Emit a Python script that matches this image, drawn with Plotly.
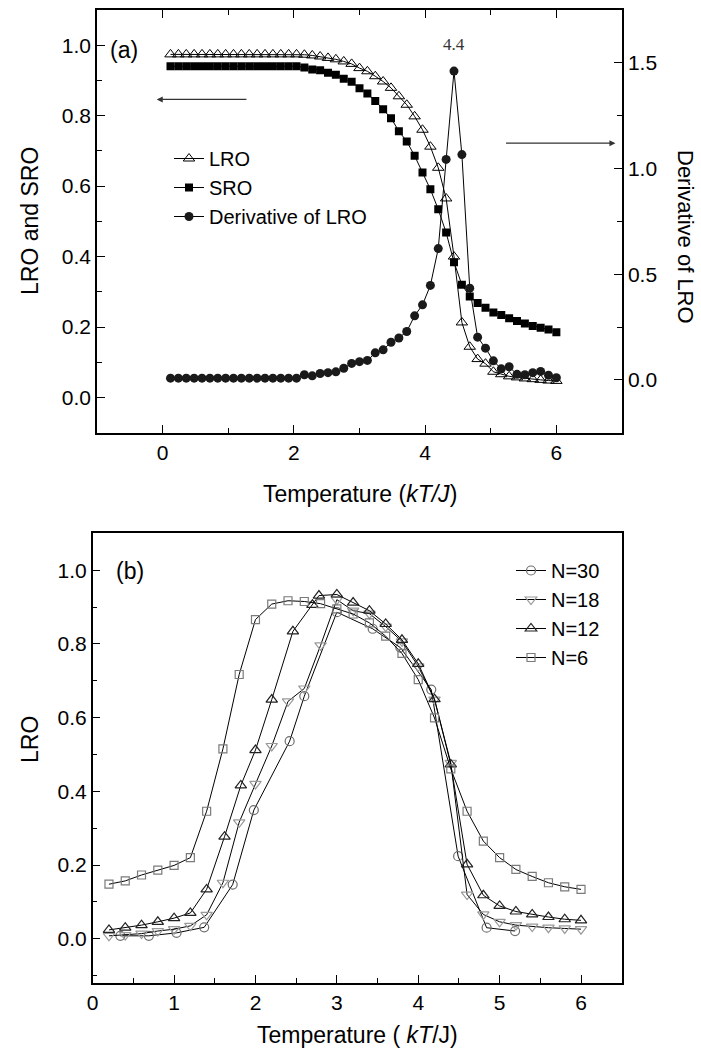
import plotly.graph_objects as go

# ---------------- Panel (a) data ----------------
T_a = [0.12, 0.24, 0.36, 0.48, 0.60, 0.72, 0.84, 0.96, 1.08, 1.20,
       1.32, 1.44, 1.56, 1.68, 1.80, 1.92, 2.04, 2.16, 2.28, 2.40,
       2.52, 2.64, 2.76, 2.88, 3.00, 3.12, 3.24, 3.36, 3.48, 3.60,
       3.72, 3.84, 3.96, 4.08, 4.20, 4.32, 4.44, 4.56, 4.68, 4.80,
       4.92, 5.04, 5.16, 5.28, 5.40, 5.52, 5.64, 5.76, 5.88, 6.00]
LRO_a = [0.974, 0.974, 0.974, 0.974, 0.974, 0.974, 0.974, 0.974, 0.974, 0.974,
         0.974, 0.974, 0.974, 0.974, 0.974, 0.974, 0.974, 0.973, 0.971, 0.968,
         0.964, 0.960, 0.954, 0.947, 0.935, 0.926, 0.912, 0.897, 0.879, 0.855,
         0.831, 0.798, 0.760, 0.712, 0.652, 0.565, 0.400, 0.213, 0.144, 0.109,
         0.096, 0.073, 0.066, 0.060, 0.057, 0.054, 0.052, 0.050, 0.048, 0.047]
SRO_a = [0.940, 0.940, 0.940, 0.940, 0.940, 0.940, 0.940, 0.940, 0.940, 0.940,
         0.940, 0.940, 0.940, 0.940, 0.940, 0.940, 0.940, 0.937, 0.931, 0.929,
         0.922, 0.916, 0.905, 0.896, 0.878, 0.863, 0.842, 0.818, 0.793, 0.756,
         0.727, 0.686, 0.639, 0.591, 0.534, 0.468, 0.384, 0.320, 0.287, 0.268,
         0.255, 0.241, 0.234, 0.225, 0.217, 0.210, 0.203, 0.198, 0.193, 0.185]
DLRO_a = [0.008, 0.008, 0.008, 0.008, 0.008, 0.008, 0.008, 0.008, 0.008, 0.008,
          0.008, 0.008, 0.008, 0.008, 0.008, 0.008, 0.008, 0.024, 0.019, 0.030,
          0.034, 0.038, 0.055, 0.078, 0.086, 0.092, 0.128, 0.142, 0.178, 0.198,
          0.229, 0.303, 0.355, 0.447, 0.621, 1.043, 1.461, 1.066, 0.434, 0.202,
          0.150, 0.090, 0.052, 0.062, 0.026, 0.024, 0.034, 0.040, 0.022, 0.010]

# ---------------- Panel (b) data ----------------
T_b = [0.2, 0.4, 0.6, 0.8, 1.0, 1.2, 1.4, 1.6, 1.8, 2.0,
       2.2, 2.4, 2.6, 2.8, 3.0, 3.2, 3.4, 3.6, 3.8, 4.0,
       4.2, 4.4, 4.6, 4.8, 5.0, 5.2, 5.4, 5.6, 5.8, 6.0]
T_n12 = [0.2, 0.4, 0.6, 0.8, 1.0, 1.2, 1.4, 1.62, 1.82, 2.0,
         2.2, 2.46, 2.7, 2.78, 3.0, 3.2, 3.4, 3.6, 3.8, 4.0,
         4.2, 4.4, 4.6, 4.8, 5.0, 5.2, 5.4, 5.6, 5.8, 6.0]
T_n30 = [0.34, 0.69, 1.03, 1.37, 1.72, 1.98, 2.42, 2.60, 3.0, 3.44,
         3.78, 4.16, 4.49, 4.84, 5.19]
N30 = [0.008, 0.008, 0.016, 0.031, 0.147, 0.349, 0.536, 0.658, 0.886, 0.841,
       0.790, 0.676, 0.224, 0.030, 0.021]
N18 = [0.008, 0.010, 0.014, 0.021, 0.026, 0.035, 0.065, 0.152, 0.316, 0.420,
       0.523, 0.644, 0.679, 0.796, 0.920, 0.890, 0.882, 0.847, 0.807, 0.739,
       0.649, 0.477, 0.120, 0.066, 0.046, 0.037, 0.033, 0.030, 0.028, 0.026]
N12 = [0.024, 0.030, 0.037, 0.046, 0.056, 0.070, 0.134, 0.277, 0.416, 0.512,
       0.649, 0.834, 0.906, 0.931, 0.934, 0.912, 0.890, 0.854, 0.811, 0.746,
       0.650, 0.473, 0.202, 0.118, 0.089, 0.074, 0.066, 0.059, 0.053, 0.050]
N6 = [0.148, 0.157, 0.173, 0.186, 0.199, 0.220, 0.346, 0.515, 0.717, 0.866,
      0.908, 0.917, 0.915, 0.909, 0.895, 0.881, 0.857, 0.821, 0.774, 0.703,
      0.599, 0.461, 0.346, 0.265, 0.220, 0.188, 0.169, 0.152, 0.141, 0.134]

W, H = 701, 1052
FONT = "Liberation Sans, Arial, Helvetica, sans-serif"


def px(v):
    return v / W


def py(v):
    return 1 - v / H


fig = go.Figure()

# Panel (a)
fig.add_trace(go.Scatter(
    x=T_a, y=LRO_a, name="LRO", mode="lines+markers",
    line=dict(color="black", width=1),
    marker=dict(symbol="triangle-up-open", size=10, color="black", line=dict(width=1)),
    xaxis="x", yaxis="y", legend="legend"))
fig.add_trace(go.Scatter(
    x=T_a, y=SRO_a, name="SRO", mode="lines+markers",
    line=dict(color="black", width=1),
    marker=dict(symbol="square", size=8, color="black"),
    xaxis="x", yaxis="y", legend="legend"))
fig.add_trace(go.Scatter(
    x=T_a, y=DLRO_a, name="Derivative of LRO", mode="lines+markers",
    line=dict(color="black", width=1),
    marker=dict(symbol="circle", size=9, color="#1a1a1a"),
    xaxis="x", yaxis="y2", legend="legend"))

# Panel (b)
fig.add_trace(go.Scatter(
    x=T_n30, y=N30, name="N=30", mode="lines+markers",
    line=dict(color="black", width=1),
    marker=dict(symbol="circle-open", size=9, color="#6e6e6e", line=dict(width=1.2)),
    xaxis="x2", yaxis="y3", legend="legend2"))
fig.add_trace(go.Scatter(
    x=T_b, y=N18, name="N=18", mode="lines+markers",
    line=dict(color="black", width=1),
    marker=dict(symbol="triangle-down-open", size=10, color="#9a9a9a", line=dict(width=1.2)),
    xaxis="x2", yaxis="y3", legend="legend2"))
fig.add_trace(go.Scatter(
    x=T_n12, y=N12, name="N=12", mode="lines+markers",
    line=dict(color="black", width=1),
    marker=dict(symbol="triangle-up-open", size=10, color="#222222", line=dict(width=1.2)),
    xaxis="x2", yaxis="y3", legend="legend2"))
fig.add_trace(go.Scatter(
    x=T_b, y=N6, name="N=6", mode="lines+markers",
    line=dict(color="black", width=1),
    marker=dict(symbol="square-open", size=8, color="#7a7a7a", line=dict(width=1.2)),
    xaxis="x2", yaxis="y3", legend="legend2"))

tickfont = dict(family=FONT, size=21, color="black")
common = dict(showgrid=False, zeroline=False, showline=True, linecolor="black",
              linewidth=1.5, ticks="inside", tickcolor="black", tickwidth=1.3,
              ticklen=8, tickfont=tickfont, automargin=False)

fig.update_layout(
    width=W, height=H,
    margin=dict(l=0, r=0, t=0, b=0),
    paper_bgcolor="white", plot_bgcolor="white",
    font=dict(family=FONT, color="black"),
    showlegend=True,
    xaxis=dict(domain=[px(97), px(622)], range=[-1, 7], anchor="y",
               tick0=0, dtick=2, mirror="ticks",
               minor=dict(dtick=1, tick0=0, ticks="inside", ticklen=5,
                          tickcolor="black", tickwidth=1.3),
               **common),
    yaxis=dict(domain=[py(432.7), py(10)], range=[-0.1, 1.1], anchor="x",
               tick0=0, dtick=0.2, tickformat=".1f",
               minor=dict(dtick=0.1, tick0=0, ticks="inside", ticklen=5,
                          tickcolor="black", tickwidth=1.3),
               **common),
    yaxis2=dict(overlaying="y", side="right", anchor="x",
                range=[-0.25, 1.75], tick0=0, dtick=0.5, tickformat=".1f",
                minor=dict(dtick=0.25, tick0=0, ticks="inside", ticklen=5,
                           tickcolor="black", tickwidth=1.3),
                **common),
    xaxis2=dict(domain=[px(92.7), px(621.7)], range=[0, 6.5], anchor="y3",
                tick0=0, dtick=1, mirror=True,
                minor=dict(dtick=0.5, tick0=0, ticks="inside", ticklen=5,
                           tickcolor="black", tickwidth=1.3),
                **common),
    yaxis3=dict(domain=[py(983), py(533.3)], range=[-0.12, 1.1], anchor="x2",
                tick0=0, dtick=0.2, tickformat=".1f", mirror=True,
                minor=dict(dtick=0.1, tick0=0, ticks="inside", ticklen=5,
                           tickcolor="black", tickwidth=1.3),
                **common),
    legend=dict(x=px(169), y=py(139), xanchor="left", yanchor="top",
                bgcolor="rgba(0,0,0,0)",
                font=dict(family=FONT, size=20, color="black"),
                tracegroupgap=0),
    legend2=dict(x=px(511), y=py(551), xanchor="left", yanchor="top",
                 bgcolor="rgba(0,0,0,0)",
                 font=dict(family=FONT, size=20, color="black"),
                 tracegroupgap=0),
)

# peak label
imax = max(range(len(DLRO_a)), key=lambda i: DLRO_a[i])
annotations = [
    dict(x=T_a[imax], y=DLRO_a[imax], xref="x", yref="y2", text="4.4",
         showarrow=False, yshift=27,
         font=dict(family="Liberation Serif, Times New Roman, serif", size=17, color="#333")),
    # arrows
    dict(x=-0.09, y=0.846, ax=1.30, ay=0.846, xref="x", yref="y", axref="x", ayref="y",
         text="", showarrow=True, arrowhead=2, arrowsize=1, arrowwidth=1.2, arrowcolor="#333"),
    dict(x=6.90, y=1.12, ax=5.21, ay=1.12, xref="x", yref="y2", axref="x", ayref="y2",
         text="", showarrow=True, arrowhead=2, arrowsize=1, arrowwidth=1.2, arrowcolor="#333"),
    # panel labels
    dict(x=px(108), y=py(50), xref="paper", yref="paper", text="(a)", showarrow=False,
         xanchor="left", yanchor="middle", font=dict(family=FONT, size=23, color="black")),
    dict(x=px(114), y=py(571), xref="paper", yref="paper", text="(b)", showarrow=False,
         xanchor="left", yanchor="middle", font=dict(family=FONT, size=23, color="black")),
    # axis titles
    dict(x=px(30), y=py(221), xref="paper", yref="paper", text="LRO and SRO",
         textangle=-90, showarrow=False, xanchor="center", yanchor="middle",
         font=dict(family=FONT, size=23, color="black")),
    dict(x=px(685), y=py(237), xref="paper", yref="paper", text="Derivative of LRO",
         textangle=90, showarrow=False, xanchor="center", yanchor="middle",
         font=dict(family=FONT, size=22, color="black")),
    dict(x=px(360), y=py(494), xref="paper", yref="paper",
         text="Temperature (<i>kT/J</i>)", showarrow=False,
         xanchor="center", yanchor="middle", font=dict(family=FONT, size=23, color="black")),
    dict(x=px(30), y=py(740), xref="paper", yref="paper", text="LRO",
         textangle=-90, showarrow=False, xanchor="center", yanchor="middle",
         font=dict(family=FONT, size=23, color="black")),
    dict(x=px(357), y=py(1035), xref="paper", yref="paper",
         text="Temperature ( <i>kT</i>/J)", showarrow=False,
         xanchor="center", yanchor="middle", font=dict(family=FONT, size=23, color="black")),
]
fig.update_layout(annotations=annotations)

fig.write_html("out.html")
